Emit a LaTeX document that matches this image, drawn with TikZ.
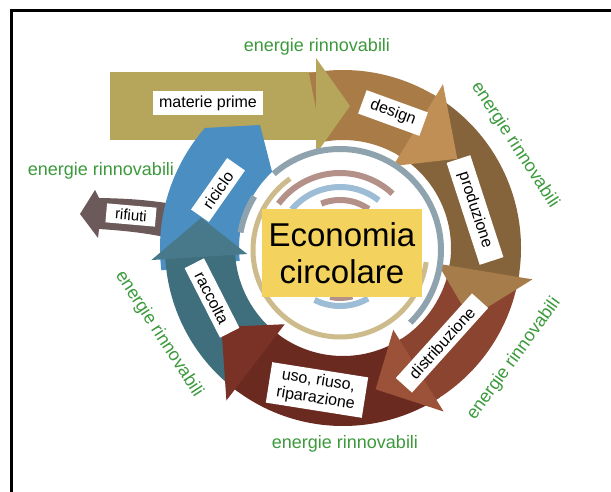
\documentclass[tikz,border=0pt]{standalone}
\usepackage{fontspec}
\setmainfont{Liberation Sans}

\definecolor{mustard}{HTML}{B6A65C}
\definecolor{designbody}{HTML}{A97B46}
\definecolor{designhead}{HTML}{C08F56}
\definecolor{prodbody}{HTML}{86643B}
\definecolor{prodhead}{HTML}{A67C4A}
\definecolor{distbody}{HTML}{8A4430}
\definecolor{disthead}{HTML}{9C5238}
\definecolor{usobody}{HTML}{6A2A20}
\definecolor{usohead}{HTML}{7A3226}
\definecolor{raccbody}{HTML}{3F6E7C}
\definecolor{racchead}{HTML}{48798A}
\definecolor{ricbody}{HTML}{4B8EC2}
\definecolor{rifcol}{HTML}{6C5A5A}
\definecolor{energygreen}{HTML}{3C9A3C}
\definecolor{boxyellow}{HTML}{F3D35E}
\definecolor{ringgrey}{HTML}{8FA3AE}
\definecolor{ringtan}{HTML}{CDBB8C}
\definecolor{ringmauve}{HTML}{B39088}
\definecolor{ringblue}{HTML}{9DBDD6}

% one curved arrow of the cycle: body colour, head colour,
% start angle, angle of the head base, angle of the tip
\newcommand{\ringseg}[5]{%
  \fill[#1] (#3:178) arc[start angle=#3, end angle=#4, radius=178]
     -- (#4:108) arc[start angle=#4, end angle=#3, radius=108] -- cycle;
  \fill[#2] ({#4+0.6}:192) -- (#5:145) -- ({#4+0.6}:96) -- cycle;
}

\begin{document}
\begin{tikzpicture}[x=1pt,y=1pt,
  lbl/.style={fill=white, text=black, font=\fontsize{16}{18}\selectfont,
              inner xsep=9pt, inner ysep=5pt},
  energy/.style={text=energygreen, font=\fontsize{18}{20}\selectfont, inner sep=0pt},
  thinring/.style={line width=6pt}]

\useasboundingbox (0,0) rectangle (611,491);
\fill[white] (0,0) rectangle (611,491);

% frame
\draw[line width=3.5pt, line join=miter] (11.3,-5) -- (11.3,480.5) -- (620,480.5);

\begin{scope}[shift={(343,243)}]
  % rifiuti: outflow to the left
  \fill[rifcol] (-163,43) to[bend right=4] (-244,50) -- (-248,58) -- (-263,34)
     -- (-245,10) -- (-244,19) to[bend left=4] (-163,8) -- cycle;

  % materie prime: straight arrow, body
  \fill[mustard] (-233,108) rectangle (-25,176);

  % riciclo: rises into the materie prime arrow
  \fill[ricbody] (187:183) arc[start angle=187, end angle=139, radius=183]
     -- (-83,123) -- (133:104) arc[start angle=133, end angle=187, radius=104] -- cycle;

  % the cycle, drawn so that every head lies over the next tail
  \ringseg{raccbody}{racchead}{-126}{-177}{-192}
  \ringseg{usobody}{usohead}{-57}{-128}{-147}
  \ringseg{distbody}{disthead}{-8}{-59}{-77}
  \ringseg{prodbody}{prodhead}{60}{-10}{-29}
  \ringseg{designbody}{designhead}{101}{58}{38}

  % materie prime: head
  \fill[mustard] (-27,190) -- (7,142) -- (-27,94) -- cycle;

  % concentric arcs around the centre
  \begin{scope}[shift={(-3,-2)}]
    \draw[ringgrey, thinring] (131:101) arc[start angle=131, end angle=-46, radius=101];
    \draw[ringgrey, thinring] (170:101) arc[start angle=170, end angle=148, radius=101];
    \draw[ringtan, line width=5pt] (125:87) arc[start angle=125, end angle=352, radius=87];
    \draw[ringmauve, thinring] (143:77) arc[start angle=143, end angle=47, radius=77];
    \draw[ringblue, thinring] (140:63) arc[start angle=140, end angle=52, radius=63];
    \draw[ringmauve, thinring] (112:50) arc[start angle=112, end angle=55, radius=50];
    \draw[ringblue, thinring] (243:56) arc[start angle=243, end angle=300, radius=56];
    \draw[ringmauve, thinring] (258:48) arc[start angle=258, end angle=285, radius=48];
  \end{scope}

  % stage labels
  \node[lbl, inner xsep=6pt] (mp) at (-135,145) {materie prime};
  \node[lbl, rotate=-20] (des) at (50,135) {design};
  \node[lbl, rotate=-72, inner xsep=14pt] (prod) at (132,38) {produzione};
  \node[lbl, rotate=48, inner xsep=12pt] (dist) at (99,-95) {distribuzione};
  \node[lbl, rotate=-9, align=center, inner ysep=4pt] (uso) at (-26,-142)
       {uso, riuso,\\riparazione};
  \node[lbl, rotate=-63, inner xsep=11pt] (racc) at (-131,-50) {raccolta};
  \node[lbl, rotate=55, inner xsep=11pt] (ric) at (-125,58) {riciclo};
  \node[lbl, rotate=-5, font=\fontsize{15}{17}\selectfont, inner xsep=9pt, inner ysep=4pt]
       (rif) at (-212,33) {rifiuti};

  % renewable energy around the cycle
  \node[energy] (e1) at (-26,201) {energie rinnovabili};
  \node[energy] (e2) at (-242,77) {energie rinnovabili};
  \node[energy, rotate=-57] (e3) at (172,103) {energie rinnovabili};
  \node[energy, rotate=54] (e4) at (171,-111) {energie rinnovabili};
  \node[energy] (e5) at (2,-196) {energie rinnovabili};
  \node[energy, rotate=-57] (e6) at (-184,-86) {energie rinnovabili};

  % centre
  \node[fill=boxyellow, text=black, minimum width=160pt, minimum height=87pt,
        align=center, inner sep=0pt, font=\fontsize{33}{37}\selectfont]
       (eco) at (-1,-5) {Economia\\circolare};
\end{scope}
\end{tikzpicture}
\end{document}
